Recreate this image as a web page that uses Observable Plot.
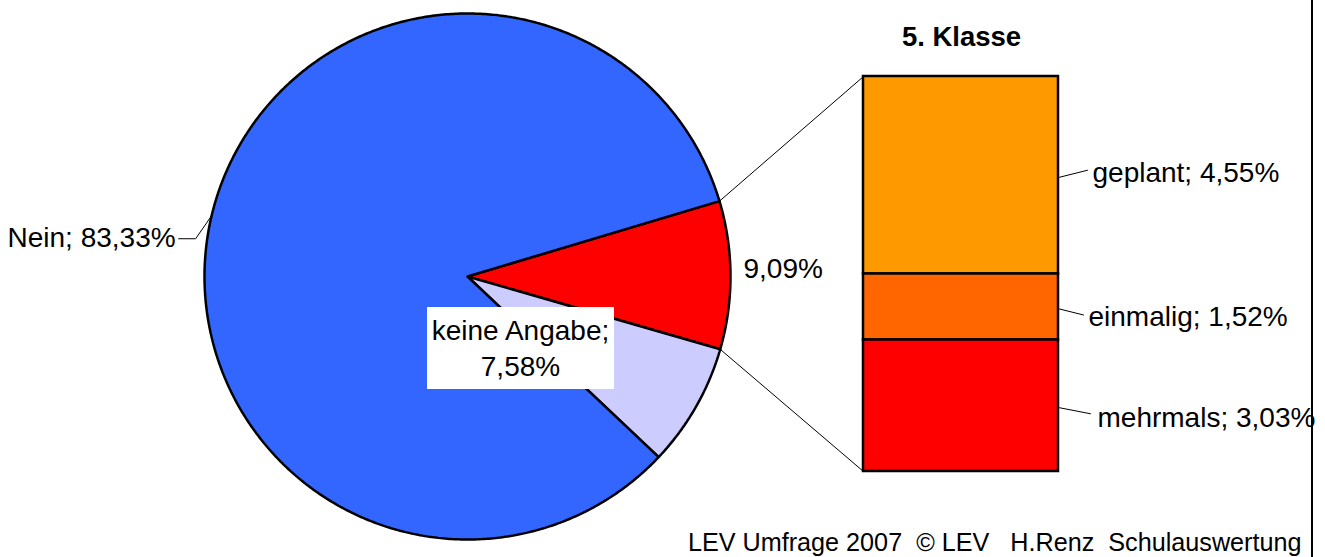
<!DOCTYPE html>
<html><head><meta charset="utf-8">
<script src="https://cdn.jsdelivr.net/npm/d3@7"></script>
<script src="https://cdn.jsdelivr.net/npm/@observablehq/plot@0.6"></script>
<style>body{margin:0;background:#fff;overflow:hidden}</style>
</head><body><div id="chart"></div>
<script>
// ---- data ----
const pieCategories = ["Ja", "keine Angabe", "Nein"];
const pieValues = [9.09, 7.58, 83.33];
const pieColors = ["#FF0000", "#CCCCFF", "#3366FF"];
const barCategories = ["geplant", "einmalig", "mehrmals"];
const barValues = [4.55, 1.52, 3.03];
const barColors = ["#FF9900", "#FF6600", "#FF0000"];
const barTitle = "5. Klasse";
const footerText = "LEV Umfrage 2007  \u00A9 LEV   H.Renz  Schulauswertung";

// ---- layout ----
const W = 1325, H = 557;
const cx = 467, cy = 276, R = 263;
const bx0 = 863, bx1 = 1058, bTop = 76, bBottom = 471;
const FONT = "Liberation Sans, Arial, Helvetica, sans-serif";
const FS = 28;

const de = d3.formatLocale({decimal: ",", thousands: ".", grouping: [3], currency: ["", "\u20AC"]});
const pct = v => de.format(".2f")(v) + "%";

// pie geometry (the exploded slice "Ja" centred at 3 o'clock)
const total = d3.sum(pieValues);
const span0 = pieValues[0] / total * 2 * Math.PI;
const start = Math.PI / 2 - span0 / 2 - 0.005;
const pieData = pieCategories.map((c, i) => ({cat: c, value: pieValues[i], color: pieColors[i]}));
const arcs = d3.pie().sort(null).value(d => d.value).startAngle(start).endAngle(start + 2 * Math.PI)(pieData);
const pt = (a, r) => [cx + r * Math.sin(a), cy - r * Math.cos(a)];

const piePolys = arcs.map(a => {
  const pts = [[cx, cy]];
  const n = Math.max(4, Math.ceil((a.endAngle - a.startAngle) / (Math.PI / 360)));
  for (let k = 0; k <= n; k++) pts.push(pt(a.startAngle + (a.endAngle - a.startAngle) * k / n, R));
  pts.push([cx, cy]);
  pts.push(pts[1]);
  return {cat: a.data.cat, color: a.data.color, pts};
});

// bar geometry (stacked from the bottom: last category at the bottom)
const barScale = d3.scaleLinear().domain([0, d3.sum(barValues)]).range([bBottom, bTop]);
const barSegs = barCategories.map((c, i) => {
  const lower = d3.sum(barValues.slice(i + 1));
  return {cat: c, value: barValues[i], color: barColors[i],
          y1: barScale(lower + barValues[i]), y2: barScale(lower), x1: bx0, x2: bx1};
});

// label offsets (layout)
const barLabelOffsets = [{dx: 34, dy: -2, lx: 29, ly: -5}, {dx: 30, dy: 10, lx: 25, ly: 8}, {dx: 39, dy: 12, lx: 32, ly: 8}];
const barLabelData = barSegs.map((s, i) => {
  const mid = (s.y1 + s.y2) / 2, o = barLabelOffsets[i];
  return {text: s.cat + "; " + pct(s.value), x: bx1 + o.dx, y: mid + o.dy,
          lead: [[bx1 + 1, mid + 2], [bx1 + o.lx, mid + o.ly]]};
});

// pie labels
const aNein = arcs[2], aJa = arcs[0], aKA = arcs[1];
const midA = a => (a.startAngle + a.endAngle) / 2;
const neinEdge = pt(midA(aNein), R);
const neinLabel = {text: aNein.data.cat + "; " + pct(aNein.data.value), x: neinEdge[0] - 36, y: neinEdge[1] + 22};
const neinLead = [neinEdge, [neinEdge[0] - 16, neinEdge[1] + 23], [neinEdge[0] - 33, neinEdge[1] + 23]];
const jaPos = pt(midA(aJa), R + 13);
const jaLabel = {text: pct(aJa.data.value), x: jaPos[0], y: jaPos[1] - 6};
const kaLabel = {text: aKA.data.cat + ";\n" + pct(aKA.data.value), x: cx + 53, y: cy + 70};
const kaBox = {x1: cx - 40, x2: cx + 147, y1: cy + 31, y2: cy + 113};

// connector lines from the exploded slice to the bar
const connectors = [
  [pt(aJa.startAngle, R), [bx0, bTop]],
  [pt(aJa.endAngle, R), [bx0, bBottom]]
];

const txt = {fontFamily: FONT, fontSize: FS, fill: "#000", lineAnchor: "middle"};

const marks = [];
connectors.forEach(c => marks.push(Plot.line(c, {x: d => d[0], y: d => d[1], stroke: "#000", strokeWidth: 1})));
piePolys.forEach(p => marks.push(Plot.line(p.pts, {x: d => d[0], y: d => d[1], fill: p.color, stroke: "#000", strokeWidth: 2.5, strokeLinejoin: "miter"})));
marks.push(Plot.rect(barSegs, {x1: "x1", x2: "x2", y1: "y1", y2: "y2", fill: "color", stroke: "#000", strokeWidth: 2.5}));
barLabelData.forEach(b => marks.push(Plot.line(b.lead, {x: d => d[0], y: d => d[1], stroke: "#000", strokeWidth: 1})));
marks.push(Plot.text(barLabelData, {x: "x", y: "y", text: "text", textAnchor: "start", ...txt}));
marks.push(Plot.line(neinLead, {x: d => d[0], y: d => d[1], stroke: "#000", strokeWidth: 1}));
marks.push(Plot.text([neinLabel], {x: "x", y: "y", text: "text", textAnchor: "end", ...txt}));
marks.push(Plot.text([jaLabel], {x: "x", y: "y", text: "text", textAnchor: "start", ...txt}));
marks.push(Plot.rect([kaBox], {x1: "x1", x2: "x2", y1: "y1", y2: "y2", fill: "#fff"}));
marks.push(Plot.text([kaLabel], {x: "x", y: "y", text: "text", textAnchor: "middle", lineHeight: 1.27, ...txt}));
marks.push(Plot.text([{t: barTitle}], {x: () => (bx0 + bx1) / 2 + 0.5, y: () => 37, text: "t", textAnchor: "middle", fontWeight: "bold", ...txt, fontSize: 27.5}));
marks.push(Plot.text([{t: footerText}], {x: () => 1301, y: () => 542, text: "t", textAnchor: "end", ...txt, fontSize: 25.2}));
marks.push(Plot.ruleX([1311.5], {y1: 0, y2: H, stroke: "#000", strokeWidth: 2}));

const chart = Plot.plot({
  width: W, height: H, margin: 0,
  x: {type: "linear", domain: [0, W], range: [0, W], axis: null},
  y: {type: "linear", domain: [0, H], range: [0, H], axis: null},
  color: {type: "identity"},
  style: {background: "#fff", fontFamily: FONT, overflow: "visible"},
  marks
});
document.getElementById("chart").appendChild(chart);
</script>
</body></html>
